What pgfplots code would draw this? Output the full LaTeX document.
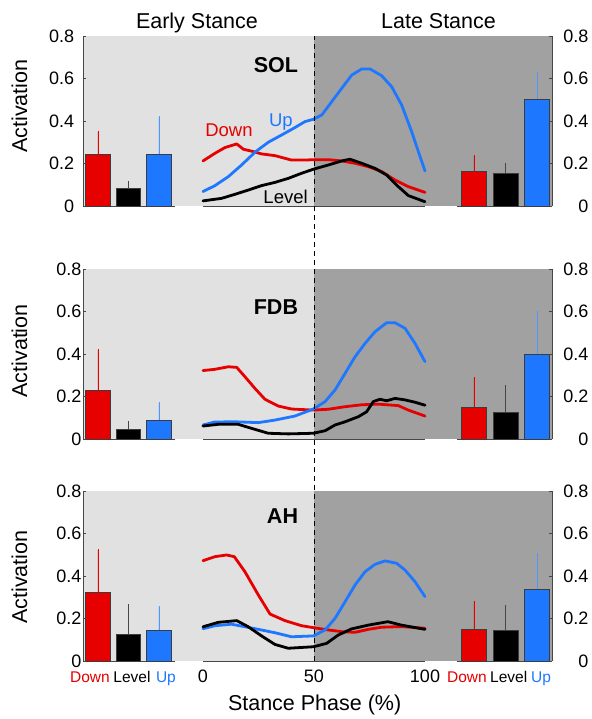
\documentclass[border=0pt]{standalone}
\usepackage{pgfplots}
\pgfplotsset{compat=1.18}
\usepackage{fontspec}
\setmainfont{Liberation Sans}
\newcommand\fs[1]{\fontsize{#1pt}{#1pt}\selectfont}
\definecolor{cred}{RGB}{230,0,0}
\definecolor{cblue}{RGB}{30,120,255}
\definecolor{eblue}{RGB}{80,150,255}
\definecolor{lg}{RGB}{225,225,225}
\definecolor{dg}{RGB}{161,161,161}
\definecolor{axc}{RGB}{70,70,70}
\definecolor{bard}{RGB}{60,60,60}
\pgfplotsset{
  panel/.style={scale only axis, width=469pt, height=170pt, xmin=-54.05, xmax=157.21, ymin=0, ymax=0.8, clip=false, anchor=south west},
  dataax/.style={panel, hide axis},
  tickax/.style={panel, axis x line=none, ytick={0,0.2,0.4,0.6,0.8}, tick align=inside, major tick length=3pt,
    axis line style={draw=axc, line width=0.6pt}, tick style={draw=axc, line width=0.6pt},
    yticklabel style={font=\fs{18}}, /pgf/number format/assume math mode=true},
  curve/.style={line width=2.8pt, line join=round, line cap=round},
  bar/.style={ybar, bar width=11.04, /pgf/bar shift=0pt, draw=bard, line width=0.6pt, fill=#1,
    /pgfplots/error bars/y dir=plus, /pgfplots/error bars/y explicit},
  ebar/.style={/pgfplots/error bars/error bar style={line width=0.6pt, draw=#1},
    /pgfplots/error bars/error mark options={mark size=1pt, line width=0.6pt, draw=#1}},
}
\begin{document}
\begin{tikzpicture}
\useasboundingbox (0,0) rectangle (591pt,719pt);
% ===== SOL =====
\begin{axis}[dataax, at={(83pt,513pt)}]
\fill[lg] (axis cs:-54.05,0) rectangle (axis cs:50,0.8);
\fill[dg] (axis cs:50,0) rectangle (axis cs:157.21,0.8);
\draw[axc, line width=0.6pt] (axis cs:-54.05,0) -- (axis cs:-12.6,0);
\draw[axc, line width=0.6pt] (axis cs:0,0) -- (axis cs:100,0);
\draw[axc, line width=0.6pt] (axis cs:114.4,0) -- (axis cs:157.21,0);
\addplot[bar=cred, ebar=cred] coordinates {(-47.3,0.245) +- (0,0.105)};
\addplot[bar=black, ebar=axc] coordinates {(-33.56,0.081) +- (0,0.033)};
\addplot[bar=cblue, ebar=eblue] coordinates {(-19.82,0.245) +- (0,0.172)};
\addplot[bar=cred, ebar=cred] coordinates {(122.07,0.161) +- (0,0.074)};
\addplot[bar=black, ebar=axc] coordinates {(136.35,0.152) +- (0,0.046)};
\addplot[bar=cblue, ebar=eblue] coordinates {(150.45,0.503) +- (0,0.123)};
\addplot[curve, cred] coordinates {(0,0.212)(5.4,0.248)(9.9,0.275)(15.2,0.292)(18.2,0.267)(22.7,0.256)(26.4,0.245)(32.4,0.237)(39.9,0.216)(45.9,0.216)(49.7,0.218)(56.5,0.218)(62.5,0.212)(68.5,0.201)(74.5,0.185)(80.5,0.162)(86.5,0.122)(92.5,0.091)(100,0.064)};
\addplot[curve, cblue] coordinates {(0,0.068)(5.4,0.096)(11.4,0.138)(17.4,0.193)(23.4,0.253)(29.4,0.300)(35.4,0.334)(41.4,0.369)(45.9,0.397)(49.7,0.408)(53.5,0.428)(58,0.491)(62.5,0.554)(67,0.616)(71.5,0.645)(75.2,0.645)(80.5,0.613)(85,0.561)(89.5,0.475)(94,0.35)(97,0.256)(100,0.165)};
\addplot[curve, black] coordinates {(0,0.024)(8.4,0.036)(14.4,0.055)(20.4,0.075)(26.4,0.096)(32.4,0.111)(38.4,0.130)(44.4,0.154)(49.7,0.173)(56.5,0.193)(62.5,0.212)(66.2,0.220)(71.5,0.201)(77.5,0.177)(82.7,0.146)(88,0.091)(92.5,0.049)(100,0.020)};
\node[anchor=base east, font=\fs{21.5}\bfseries] at (axis cs:44.4,0.626) {SOL};
\node[anchor=base, font=\fs{18.5}, text=cred] at (axis cs:11.7,0.329) {Down};
\node[anchor=base, font=\fs{18.5}, text=cblue] at (axis cs:35.1,0.376) {Up};
\node[anchor=base, font=\fs{18.5}] at (axis cs:37.2,0.013) {Level};
\node[rotate=90, font=\fs{21.5}] at (axis description cs:-0.1354,0.588) {Activation};
\node[anchor=base, font=\fs{21.5}] at (axis description cs:0.243,1.047) {Early Stance};
\node[anchor=base, font=\fs{21.5}] at (axis description cs:0.758,1.047) {Late Stance};
\end{axis}
\begin{axis}[tickax, at={(83pt,513pt)}, axis y line*=left, yticklabel style={xshift=-5.3pt}]
\end{axis}
\begin{axis}[tickax, at={(83pt,513pt)}, axis y line*=right, yticklabel style={anchor=east, xshift=40pt}]
\end{axis}
% ===== FDB =====
\begin{axis}[dataax, at={(83pt,280pt)}]
\fill[lg] (axis cs:-54.05,0) rectangle (axis cs:50,0.8);
\fill[dg] (axis cs:50,0) rectangle (axis cs:157.21,0.8);
\draw[axc, line width=0.6pt] (axis cs:-54.05,0) -- (axis cs:-12.6,0);
\draw[axc, line width=0.6pt] (axis cs:0,0) -- (axis cs:100,0);
\draw[axc, line width=0.6pt] (axis cs:114.4,0) -- (axis cs:157.21,0);
\addplot[bar=cred, ebar=cred] coordinates {(-47.3,0.230) +- (0,0.189)};
\addplot[bar=black, ebar=axc] coordinates {(-33.56,0.046) +- (0,0.034)};
\addplot[bar=cblue, ebar=eblue] coordinates {(-19.82,0.089) +- (0,0.079)};
\addplot[bar=cred, ebar=cred] coordinates {(122.07,0.149) +- (0,0.137)};
\addplot[bar=black, ebar=axc] coordinates {(136.35,0.127) +- (0,0.124)};
\addplot[bar=cblue, ebar=eblue] coordinates {(150.45,0.399) +- (0,0.200)};
\addplot[curve, cred] coordinates {(0,0.322)(5.4,0.328)(11.4,0.340)(15.2,0.337)(18.9,0.293)(23.4,0.238)(27.9,0.187)(33.9,0.155)(39.9,0.141)(49.7,0.136)(56.5,0.140)(64,0.152)(71.5,0.161)(79,0.164)(88,0.157)(92.5,0.136)(100,0.108)};
\addplot[curve, cblue] coordinates {(0,0.066)(5.4,0.080)(14.4,0.081)(24.9,0.077)(32.4,0.089)(41.4,0.108)(49.7,0.141)(55,0.176)(59.5,0.231)(64,0.309)(68.5,0.387)(73,0.450)(77.5,0.505)(82.7,0.547)(86.5,0.547)(91,0.521)(95.5,0.450)(100,0.364)};
\addplot[curve, black] coordinates {(0,0.061)(6.9,0.069)(15.9,0.069)(21.9,0.050)(29.4,0.027)(38.4,0.024)(49.7,0.027)(55,0.039)(59.5,0.066)(64,0.081)(70,0.105)(73.7,0.128)(76.7,0.176)(79.7,0.187)(82.7,0.180)(86.5,0.191)(91,0.184)(95.5,0.173)(100,0.159)};
\node[anchor=base east, font=\fs{21.5}\bfseries] at (axis cs:44.4,0.584) {FDB};
\node[rotate=90, font=\fs{21.5}] at (axis description cs:-0.1354,0.518) {Activation};
\end{axis}
\begin{axis}[tickax, at={(83pt,280pt)}, axis y line*=left, yticklabel style={xshift=2pt}]
\end{axis}
\begin{axis}[tickax, at={(83pt,280pt)}, axis y line*=right, yticklabel style={anchor=east, xshift=40pt}]
\end{axis}
% ===== AH =====
\begin{axis}[dataax, at={(83pt,58pt)}]
\fill[lg] (axis cs:-54.05,0) rectangle (axis cs:50,0.8);
\fill[dg] (axis cs:50,0) rectangle (axis cs:157.21,0.8);
\draw[black, line width=0.9pt, dash pattern=on 5pt off 4pt] (axis cs:50,0) -- (axis cs:50,2.941);
\draw[axc, line width=0.6pt] (axis cs:-54.05,0) -- (axis cs:-12.6,0);
\draw[axc, line width=0.6pt] (axis cs:0,0) -- (axis cs:100,0);
\draw[axc, line width=0.6pt] (axis cs:114.4,0) -- (axis cs:157.21,0);
\addplot[bar=cred, ebar=cred] coordinates {(-47.3,0.323) +- (0,0.199)};
\addplot[bar=black, ebar=axc] coordinates {(-33.56,0.127) +- (0,0.137)};
\addplot[bar=cblue, ebar=eblue] coordinates {(-19.82,0.146) +- (0,0.107)};
\addplot[bar=cred, ebar=cred] coordinates {(122.07,0.149) +- (0,0.130)};
\addplot[bar=black, ebar=axc] coordinates {(136.35,0.143) +- (0,0.116)};
\addplot[bar=cblue, ebar=eblue] coordinates {(150.45,0.337) +- (0,0.167)};
\addplot[curve, cred] coordinates {(0,0.472)(5.4,0.491)(10.6,0.499)(14.1,0.491)(18.9,0.420)(24.9,0.311)(30.2,0.221)(36.9,0.190)(44.4,0.166)(49.7,0.157)(56.5,0.146)(62.5,0.138)(68.5,0.135)(74.5,0.149)(80.5,0.159)(89.5,0.162)(100,0.154)};
\addplot[curve, cblue] coordinates {(0,0.152)(5.4,0.166)(12.9,0.173)(18.9,0.161)(24.9,0.149)(32.4,0.133)(39.9,0.114)(49.7,0.118)(55,0.146)(59.5,0.201)(64,0.279)(68.5,0.358)(73,0.420)(77.5,0.455)(82,0.471)(87.2,0.460)(91,0.428)(95.5,0.373)(100,0.303)};
\addplot[curve, black] coordinates {(0,0.161)(6.9,0.182)(15.2,0.190)(20.4,0.161)(26.4,0.118)(32.4,0.078)(38.4,0.060)(49.7,0.067)(55.7,0.083)(60.9,0.122)(66.9,0.151)(74.5,0.169)(83.3,0.185)(89.3,0.169)(100,0.149)};
\node[anchor=base east, font=\fs{21.5}\bfseries] at (axis cs:44.4,0.648) {AH};
\node[rotate=90, font=\fs{21.5}] at (axis description cs:-0.1354,0.494) {Activation};
\node[anchor=base, font=\fs{18}] at (axis cs:0,-0.102) {0};
\node[anchor=base, font=\fs{18}] at (axis cs:50,-0.102) {50};
\node[anchor=base, font=\fs{18}] at (axis cs:100,-0.102) {100};
\node[anchor=base, font=\fs{21.5}] at (axis cs:50.3,-0.2306) {Stance Phase (\%)};
\node[anchor=base, font=\fs{15.5}, text=cred] at (axis cs:-50.9,-0.102) {Down};
\node[anchor=base, font=\fs{15.5}] at (axis cs:-32,-0.102) {Level};
\node[anchor=base, font=\fs{15.5}, text=cblue] at (axis cs:-16.7,-0.102) {Up};
\node[anchor=base, font=\fs{15.5}, text=cred] at (axis cs:118.9,-0.102) {Down};
\node[anchor=base, font=\fs{15.5}] at (axis cs:137.7,-0.102) {Level};
\node[anchor=base, font=\fs{15.5}, text=cblue] at (axis cs:152.3,-0.102) {Up};
\end{axis}
\begin{axis}[tickax, at={(83pt,58pt)}, axis y line*=left, yticklabel style={xshift=2pt}]
\end{axis}
\begin{axis}[tickax, at={(83pt,58pt)}, axis y line*=right, yticklabel style={anchor=east, xshift=40pt}]
\end{axis}
\end{tikzpicture}
\end{document}
